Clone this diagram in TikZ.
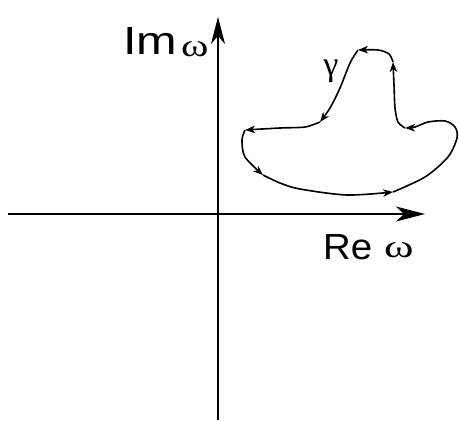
\documentclass[tikz,border=0pt]{standalone}
\usepackage{fontspec}
\usepackage{graphicx}
\setmainfont{Liberation Serif}
\newfontfamily\labsans{Liberation Sans}
\usetikzlibrary{arrows.meta}
\tikzset{
  axis/.style={line width=1.3pt},
  curve/.style={line width=1.6pt, line join=round, -{Stealth[length=10pt,width=7.5pt,inset=3pt]}},
  omeg/.style={anchor=base west,inner sep=0pt,font=\fontsize{32pt}{34pt}\selectfont},
}
\begin{document}
\begin{tikzpicture}[x=1pt,y=-1pt]
\useasboundingbox (0,0) rectangle (459,421);
% axes
\coordinate (xl) at (8,214);
\coordinate (xr) at (425,214);
\coordinate (yb) at (218,420);
\coordinate (yt) at (218,17);
\draw[axis,-{Stealth[length=29pt,width=15pt,inset=8pt]}] (xl) -- (xr);
\draw[axis,-{Stealth[length=27pt,width=14pt,inset=8pt]}] (yb) -- (yt);
% labels
\node[anchor=south west,inner sep=0pt] (im) at (123,55) {\resizebox{54pt}{27pt}{\labsans Im}};
\node[omeg] (imw) at (181,56) {\scalebox{1.3}[1]{ω}};
\node[anchor=south west,inner sep=0pt] (re) at (323,260) {\resizebox{49pt}{25pt}{\labsans Re}};
\node[omeg] (rew) at (384,257) {\scalebox{1.4}[1]{ω}};
\node[inner sep=0pt] (gam) at (331,71) {\fontsize{34pt}{40pt}\selectfont γ};
% contour
\draw[curve] plot[smooth] coordinates {(263,175) (280,183) (300,189) (347,195) (393,192)};
\draw[curve] plot[smooth] coordinates {(393,192) (425,177) (448,157) (457,138) (455,127) (445,121) (428,122) (415,127) (405,128)};
\draw[curve] plot[smooth] coordinates {(405,128) (398,122) (395,108) (394,85) (393,62)};
\draw[curve] plot[smooth] coordinates {(393,62) (389,54) (378,50) (358,50)};
\draw[curve] plot[smooth] coordinates {(358,50) (350,63) (340,88) (330,108) (320,122)};
\draw[curve] plot[smooth] coordinates {(320,122) (305,127) (280,128) (245,130)};
\draw[curve] plot[smooth] coordinates {(245,130) (242,140) (245,157) (263,175)};
\end{tikzpicture}
\end{document}
